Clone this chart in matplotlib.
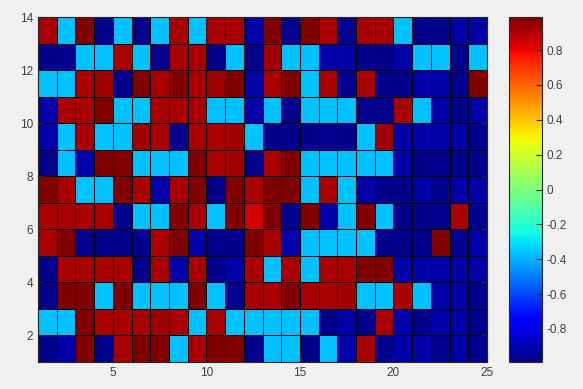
import numpy as np
import matplotlib
matplotlib.use('Agg')
import matplotlib.pyplot as plt

plt.rcParams['font.family'] = ['Liberation Sans', 'DejaVu Sans']

# Cell values, rows from y=1 (bottom) to y=13 (top)
x_edges = list(range(1, 26))
y_edges = list(range(1, 15))

row01 = [-0.965, -0.915, 0.985, -0.965, 0.915, 0.985, 0.985, -0.37, 0.915, 0.985, 0.985, -0.965, -0.37, -0.37, -0.965, -0.37, -0.915, 0.915, -0.965, -0.915, -0.915, -0.965, -0.915, -0.965]
row02 = [-0.37, -0.37, 0.985, 0.915, 0.915, 0.915, 0.935, 0.915, -0.37, 0.915, -0.37, -0.37, -0.37, -0.37, -0.37, -0.965, -0.915, -0.965, 0.915, -0.915, -0.965, -0.915, -0.915, -0.965]
row03 = [-0.965, 0.985, 0.985, -0.37, 0.985, -0.37, -0.37, -0.37, 0.985, -0.37, -0.965, 0.915, 0.915, 0.985, 0.915, 0.915, 0.935, -0.37, -0.37, 0.915, -0.37, -0.915, -0.915, -0.965]
row04 = [-0.965, 0.915, 0.915, 0.915, 0.915, -0.965, 0.915, -0.915, 0.915, -0.965, -0.915, 0.915, -0.37, 0.915, -0.37, 0.915, 0.915, 0.985, 0.985, -0.915, -0.915, -0.915, -0.915, -0.915]
row05 = [0.915, 0.985, -0.965, -0.965, -0.965, -0.965, 0.915, 0.985, -0.915, -0.965, -0.965, 0.985, 0.915, -0.915, -0.37, -0.37, -0.37, -0.37, -0.965, -0.965, -0.965, 0.985, -0.965, -0.915]
row06 = [0.915, 0.915, 0.915, 0.915, -0.965, -0.37, -0.37, 0.985, 0.915, -0.37, 0.985, 0.845, 0.985, -0.965, 0.985, -0.915, -0.37, 0.985, -0.37, -0.965, -0.965, -0.965, 0.915, -0.965]
row07 = [0.985, 0.915, -0.37, -0.37, 0.985, 0.915, -0.915, 0.915, 0.985, -0.965, 0.985, 0.915, 0.985, 0.985, -0.37, 0.915, -0.37, -0.915, -0.965, -0.965, -0.915, -0.965, -0.915, -0.915]
row08 = [-0.965, -0.37, -0.915, 0.985, 0.985, -0.37, -0.37, -0.37, 0.985, 0.915, 0.935, -0.965, 0.915, 0.985, -0.37, -0.37, -0.37, -0.37, -0.37, -0.915, -0.965, -0.965, -0.965, -0.965]
row09 = [-0.915, -0.37, 0.915, -0.37, -0.37, 0.935, 0.915, -0.965, 0.915, 0.915, 0.935, -0.37, -0.965, -0.965, -0.965, -0.965, -0.965, -0.37, 0.935, -0.915, -0.915, -0.915, -0.915, -0.965]
row10 = [-0.915, 0.915, 0.915, 0.985, -0.37, -0.37, 0.915, 0.915, 0.915, -0.37, -0.37, -0.915, -0.37, -0.965, -0.37, -0.37, -0.37, -0.965, -0.965, 0.915, -0.37, -0.915, -0.965, -0.915]
row11 = [-0.37, -0.37, 0.915, 0.935, -0.965, 0.985, 0.915, 0.985, 0.915, 0.935, 0.985, -0.915, 0.915, 0.985, -0.37, 0.915, -0.965, 0.915, -0.965, -0.965, -0.915, -0.915, -0.965, 0.985]
row12 = [-0.965, -0.965, -0.37, -0.37, 0.915, -0.37, -0.965, 0.915, 0.915, -0.965, -0.37, -0.965, 0.935, -0.37, -0.37, -0.915, -0.915, -0.965, -0.965, -0.915, -0.37, -0.37, -0.965, -0.37]
row13 = [0.915, -0.37, 0.985, -0.965, -0.37, -0.965, -0.37, 0.915, -0.37, 0.915, 0.915, -0.915, 0.985, -0.965, 0.985, 0.915, -0.965, 0.915, 0.915, -0.37, -0.965, -0.965, -0.915, -0.915]

values = np.array([row01, row02, row03, row04, row05, row06, row07,
                   row08, row09, row10, row11, row12, row13])

x_ticks = [5, 10, 15, 20, 25]
y_ticks = [2, 4, 6, 8, 10, 12, 14]
cb_ticks = [-0.8, -0.6, -0.4, -0.2, 0, 0.2, 0.4, 0.6, 0.8]
cb_labels = ['-0.8', '-0.6', '-0.4', '-0.2', '0', '0.2', '0.4', '0.6', '0.8']

W, H = 583, 389
fig = plt.figure(figsize=(W / 100, H / 100), dpi=100, facecolor='#f0f0f0')
ax = fig.add_axes([38 / W, 1 - 362 / H, (487 - 38) / W, (362 - 17) / H])
cax = fig.add_axes([509 / W, 1 - 362 / H, (542 - 509) / W, (362 - 17) / H])

mesh = ax.pcolormesh(x_edges, y_edges, values, cmap='jet', vmin=-0.99, vmax=0.99,
                     edgecolors='black', linewidth=0.6)
ax.set_xlim(1, 25)
ax.set_ylim(1, 14)
ax.set_xticks(x_ticks)
ax.set_yticks(y_ticks)
ax.tick_params(direction='in', length=4, labelsize=8.5, labelcolor='#404040',
               top=True, right=True, color='#262626')
for s in ax.spines.values():
    s.set_color('#262626')
    s.set_linewidth(0.8)

cb = fig.colorbar(mesh, cax=cax, ticks=cb_ticks)
cb.ax.set_yticklabels(cb_labels)
cb.ax.tick_params(direction='in', length=4, labelsize=8.5, labelcolor='#404040',
                  color='#262626')
cb.outline.set_edgecolor('#262626')
cb.outline.set_linewidth(0.8)

fig.savefig('out.png', dpi=100, facecolor=fig.get_facecolor())
